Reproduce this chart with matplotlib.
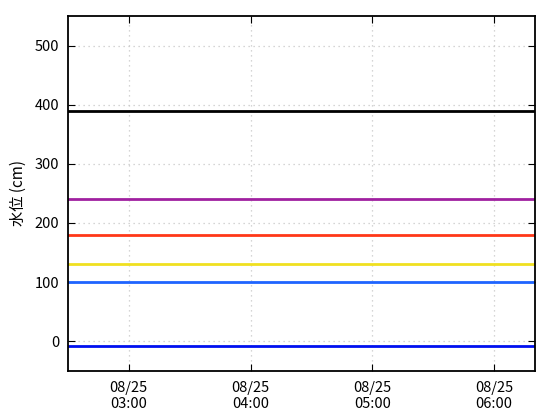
import matplotlib
matplotlib.use("Agg")
import matplotlib.pyplot as plt
import matplotlib.dates as mdates
from datetime import datetime

plt.rcParams['font.family'] = ['Noto Sans CJK JP', 'DejaVu Sans']

# reference levels (cm)
levels = [390, 240, 180, 130, 100, -8]
colors = ['#000000', '#a020a0', '#ff3818', '#f0e020', '#1e64ff', '#0010f0']

t_start = datetime(2024, 8, 25, 2, 30)
t_end = datetime(2024, 8, 25, 6, 20)
tick_times = [datetime(2024, 8, 25, h, 0) for h in [3, 4, 5, 6]]
yticks = [0, 100, 200, 300, 400, 500]

fig = plt.figure(figsize=(5.6, 4.2), dpi=100)
ax = fig.add_axes([0.121, 0.117, 0.834, 0.845])

for lv, c in zip(levels, colors):
    ax.plot([t_start, t_end], [lv, lv], color=c, lw=2)

ax.set_xlim(t_start, t_end)
ax.set_ylim(-50, 550)
ax.set_xticks(tick_times)
ax.xaxis.set_major_formatter(mdates.DateFormatter('%m/%d\n%H:%M'))
ax.set_yticks(yticks)
ax.grid(True, color='#c8c8c8', linestyle=(0, (1, 3)), linewidth=0.9)
ax.tick_params(direction='in', top=True, right=True, length=5, labelsize=10.5)
ax.tick_params(axis='x', pad=7)
ax.tick_params(axis='y', pad=6)
for s in ax.spines.values():
    s.set_linewidth(1.3)
ax.set_ylabel('水位 (cm)', fontsize=11, labelpad=6)

fig.savefig('out.png', dpi=100)
